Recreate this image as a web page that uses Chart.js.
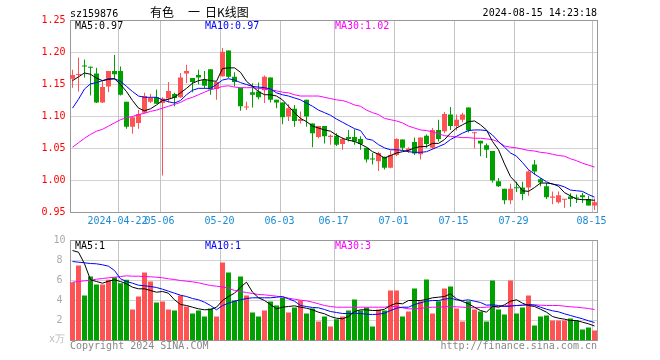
<!DOCTYPE html>
<html>
<head>
<meta charset="utf-8">
<script src="https://cdn.jsdelivr.net/npm/chart.js@4.4.1/dist/chart.umd.min.js"></script>
<style>
  body { margin: 0; background: #fff; }
  #wrap { position: relative; width: 660px; height: 360px; overflow: hidden; font: 10px 'DejaVu Sans Mono', monospace; }
  canvas { position: absolute; left: 0; top: 0; }
  .t { position: absolute; line-height: 12px; white-space: pre; }
  .cjk { position: absolute; font: 12px 'Noto Sans CJK SC', sans-serif; line-height: 14px; top: 5px; white-space: pre; }
</style>
</head>
<body>
<div id="wrap">
  <canvas id="price" width="660" height="360"></canvas>
  <canvas id="volume" width="660" height="360"></canvas>

  <div class="t" style="left:70px;top:8px">sz159876</div>
  <div class="cjk" style="left:150px">有色</div>
  <div class="cjk" style="left:188px">一</div>
  <div class="cjk" style="left:205px">日K线图</div>
  <div class="t" style="right:63px;top:7px">2024-08-15 14:23:18</div>

  <div class="t" id="lg5" style="left:75px;top:19.5px;color:#000"></div>
  <div class="t" id="lg10" style="left:205px;top:19.5px;color:#0000ff"></div>
  <div class="t" id="lg30" style="left:335px;top:19.5px;color:#ff00ff"></div>

  <div class="t" id="vlg5" style="left:75px;top:239.5px;color:#000"></div>
  <div class="t" id="vlg10" style="left:205px;top:239.5px;color:#0000ff"></div>
  <div class="t" id="vlg30" style="left:335px;top:239.5px;color:#ff00ff"></div>

  <div class="t" style="left:49px;top:333px;color:#bbb">x万</div>
  <div class="t" style="left:70px;top:339.5px;color:#888">Copyright 2024 SINA.COM</div>
  <div class="t" style="right:63px;top:339.5px;color:#888">http://finance.sina.com.cn</div>
</div>

<script>
// trading days shown on the chart
const dates = [
  '2024-04-10','2024-04-11','2024-04-12','2024-04-15','2024-04-16','2024-04-17','2024-04-18','2024-04-19',
  '2024-04-22','2024-04-23','2024-04-24','2024-04-25','2024-04-26','2024-04-29','2024-04-30',
  '2024-05-06','2024-05-07','2024-05-08','2024-05-09','2024-05-10',
  '2024-05-13','2024-05-14','2024-05-15','2024-05-16','2024-05-17',
  '2024-05-20','2024-05-21','2024-05-22','2024-05-23','2024-05-24',
  '2024-05-27','2024-05-28','2024-05-29','2024-05-30','2024-05-31',
  '2024-06-03','2024-06-04','2024-06-05','2024-06-06','2024-06-07',
  '2024-06-11','2024-06-12','2024-06-13','2024-06-14',
  '2024-06-17','2024-06-18','2024-06-19','2024-06-20','2024-06-21',
  '2024-06-24','2024-06-25','2024-06-26','2024-06-27','2024-06-28',
  '2024-07-01','2024-07-02','2024-07-03','2024-07-04','2024-07-05',
  '2024-07-08','2024-07-09','2024-07-10','2024-07-11','2024-07-12',
  '2024-07-15','2024-07-16','2024-07-17','2024-07-18','2024-07-19',
  '2024-07-22','2024-07-23','2024-07-24','2024-07-25','2024-07-26',
  '2024-07-29','2024-07-30','2024-07-31',
  '2024-08-01','2024-08-02','2024-08-05','2024-08-06','2024-08-07','2024-08-08','2024-08-09',
  '2024-08-12','2024-08-13','2024-08-14','2024-08-15'
];

// axis tick dates and the text shown for them
const tickDates = ['2024-04-22','2024-05-06','2024-05-20','2024-06-03','2024-06-17','2024-07-01','2024-07-15','2024-07-29','2024-08-15'];
const tickTexts = ['2024-04-22','05-06','05-20','06-03','06-17','07-01','07-15','07-29','08-15'];

const open = [
  1.159,1.165,1.179,1.177,1.167,1.122,1.147,1.171,1.171,1.123,
  1.084,1.090,1.106,1.123,1.130,1.121,1.128,1.135,1.130,1.167,
  1.160,1.165,1.157,1.174,1.143,1.163,1.203,1.162,1.145,1.114,
  1.138,1.139,1.141,1.161,1.126,1.122,1.100,1.112,1.093,1.126,
  1.089,1.068,1.085,1.068,1.070,1.057,1.068,1.068,1.065,1.051,
  1.034,1.030,1.037,1.020,1.040,1.064,1.047,1.060,1.041,1.070,
  1.051,1.079,1.077,1.103,1.085,1.095,1.114,1.074,1.062,1.055,
  1.046,0.999,0.987,0.969,0.989,0.989,0.989,1.025,1.002,0.991,
  0.973,0.966,0.970,0.975,0.973,0.977,0.971,0.961
];
const high = [
  1.173,1.192,1.189,1.178,1.176,1.155,1.171,1.196,1.178,1.123,
  1.099,1.110,1.137,1.135,1.142,1.130,1.154,1.137,1.168,1.181,
  1.160,1.173,1.171,1.174,1.154,1.207,1.203,1.169,1.145,1.123,
  1.152,1.153,1.164,1.161,1.126,1.122,1.119,1.118,1.108,1.126,
  1.089,1.085,1.085,1.072,1.074,1.067,1.079,1.080,1.069,1.051,
  1.043,1.045,1.037,1.047,1.066,1.064,1.052,1.067,1.067,1.072,
  1.082,1.095,1.107,1.115,1.103,1.106,1.114,1.076,1.062,1.058,
  1.046,1.004,0.987,0.995,0.998,0.998,1.016,1.032,1.004,0.996,
  0.983,0.983,0.971,0.980,0.978,0.981,0.976,0.972
];
const low = [
  1.145,1.139,1.161,1.133,1.121,1.121,1.138,1.158,1.133,1.081,
  1.073,1.081,1.105,1.121,1.120,1.008,1.122,1.116,1.129,1.152,
  1.138,1.150,1.144,1.134,1.126,1.162,1.160,1.147,1.109,1.110,
  1.114,1.127,1.121,1.122,1.113,1.088,1.093,1.084,1.089,1.084,
  1.052,1.066,1.058,1.056,1.054,1.048,1.061,1.056,1.048,1.028,
  1.025,1.015,1.017,1.019,1.038,1.047,1.043,1.040,1.033,1.051,
  1.049,1.061,1.074,1.079,1.078,1.091,1.075,1.050,1.038,1.035,
  0.997,0.990,0.963,0.963,0.982,0.969,0.976,1.009,0.991,0.971,
  0.963,0.964,0.957,0.959,0.965,0.965,0.961,0.954
];
const close = [
  1.165,1.166,1.178,1.176,1.122,1.146,1.171,1.166,1.134,1.084,
  1.099,1.104,1.132,1.129,1.120,1.128,1.140,1.129,1.161,1.171,
  1.154,1.161,1.148,1.142,1.154,1.201,1.162,1.154,1.116,1.115,
  1.134,1.130,1.162,1.126,1.122,1.099,1.113,1.093,1.096,1.100,
  1.074,1.085,1.069,1.070,1.056,1.065,1.065,1.061,1.057,1.033,
  1.033,1.043,1.020,1.040,1.065,1.051,1.050,1.042,1.067,1.057,
  1.079,1.065,1.104,1.085,1.095,1.103,1.078,1.074,1.058,1.048,
  1.000,0.991,0.969,0.987,0.988,0.979,1.014,1.014,0.997,0.974,
  0.975,0.977,0.971,0.971,0.972,0.974,0.961,0.966
];

// moving averages as drawn on the price panel
const ma5 = [
  1.156,1.162,1.168,1.166,1.160,1.156,1.158,1.159,1.150,1.139,
  1.125,1.113,1.109,1.112,1.118,1.125,1.127,1.130,1.137,1.144,
  1.152,1.156,1.158,1.156,1.155,1.175,1.176,1.176,1.169,1.155,
  1.147,1.139,1.134,1.134,1.132,1.126,1.116,1.106,1.097,1.092,
  1.085,1.082,1.079,1.077,1.071,1.066,1.063,1.061,1.057,1.052,
  1.045,1.041,1.035,1.039,1.043,1.045,1.047,1.051,1.053,1.053,
  1.058,1.058,1.064,1.074,1.082,1.087,1.092,1.093,1.087,1.079,
  1.061,1.048,1.026,1.006,0.996,0.984,0.983,0.989,0.996,0.996,
  0.995,0.991,0.981,0.976,0.971,0.970,0.970,0.969
];
const ma10 = [
  1.113,1.127,1.143,1.151,1.153,1.156,1.159,1.159,1.155,1.147,
  1.139,1.132,1.130,1.130,1.130,1.126,1.123,1.121,1.125,1.134,
  1.141,1.144,1.144,1.144,1.150,1.157,1.159,1.157,1.153,1.150,
  1.147,1.146,1.145,1.143,1.137,1.134,1.132,1.129,1.126,1.121,
  1.116,1.110,1.106,1.102,1.096,1.091,1.086,1.081,1.078,1.065,
  1.063,1.056,1.051,1.048,1.048,1.047,1.045,1.044,1.044,1.045,
  1.049,1.053,1.057,1.064,1.069,1.074,1.078,1.079,1.079,1.078,
  1.071,1.061,1.052,1.043,1.038,1.028,1.017,1.010,1.004,0.998,
  0.994,0.993,0.990,0.985,0.984,0.983,0.978,0.974
];
const ma30 = [
  1.052,1.059,1.066,1.072,1.077,1.080,1.085,1.090,1.095,1.098,
  1.100,1.103,1.105,1.108,1.110,1.113,1.116,1.119,1.122,1.127,
  1.130,1.134,1.138,1.142,1.144,1.147,1.148,1.146,1.145,1.145,
  1.145,1.144,1.143,1.142,1.140,1.138,1.137,1.134,1.132,1.132,
  1.132,1.132,1.130,1.128,1.126,1.125,1.122,1.118,1.116,1.110,
  1.106,1.103,1.097,1.095,1.093,1.090,1.085,1.082,1.079,1.078,
  1.076,1.073,1.070,1.069,1.068,1.067,1.067,1.066,1.066,1.065,
  1.064,1.060,1.054,1.052,1.051,1.049,1.047,1.046,1.044,1.043,
  1.041,1.039,1.038,1.034,1.031,1.027,1.024,1.021
];

// volume (x万) and its moving averages
const volume = [
  5.83,7.5,4.5,6.4,5.6,5.6,6.07,6.33,5.73,6.07,
  3.1,4.4,6.8,5.9,3.8,3.9,3.1,3.0,4.5,3.4,
  2.7,3.0,2.4,3.2,2.4,7.8,6.8,4.0,6.4,4.5,
  2.8,2.4,3.0,3.9,3.5,4.27,2.8,3.3,4.0,2.7,
  3.2,1.9,2.4,1.4,2.13,2.4,3.0,4.1,3.0,3.3,
  1.4,3.1,3.0,5.0,5.0,2.4,2.9,5.2,3.93,6.1,
  2.7,3.93,5.2,5.4,3.2,1.9,3.93,3.1,2.9,1.9,
  6.0,3.1,2.6,6.0,2.7,3.3,4.5,1.5,2.4,2.5,
  2.0,2.0,2.0,2.2,2.0,1.1,1.3,1.0
];
const volMa5 = [
  9.0,8.83,7.67,6.07,5.9,5.73,5.93,6.07,5.9,5.67,
  5.33,5.17,5.17,5.0,4.83,4.9,4.73,4.07,3.6,3.5,
  3.33,3.17,3.07,3.1,3.33,4.0,4.4,4.73,5.33,5.83,
  4.83,4.27,4.0,3.6,3.17,3.33,3.4,3.47,3.33,3.23,
  3.07,2.83,2.67,2.4,2.23,2.17,2.4,2.9,3.07,3.07,
  3.0,3.0,3.13,3.5,3.73,3.67,4.0,4.0,4.0,4.1,
  4.27,4.33,4.4,4.67,4.17,3.9,3.67,3.33,3.0,2.83,
  3.43,3.33,3.57,3.93,4.07,3.73,3.5,3.4,3.13,2.83,
  2.4,2.23,2.13,2.0,2.0,1.83,1.67,1.45
];
const volMa10 = [
  7.9,7.83,7.77,7.7,7.67,7.57,7.43,7.0,6.17,5.9,
  5.73,5.53,5.47,5.4,5.3,5.13,4.93,4.73,4.53,4.4,
  4.2,4.07,3.83,3.5,3.07,3.5,3.73,3.93,4.07,4.2,
  4.27,4.27,4.27,4.27,4.33,4.4,4.17,3.93,3.5,3.4,
  3.3,3.27,3.1,2.9,2.8,2.7,2.7,2.73,2.7,2.63,
  2.6,2.63,2.73,3.0,3.23,3.33,3.33,3.6,3.77,3.93,
  4.0,4.0,4.13,4.23,4.07,4.0,4.07,3.93,3.8,3.53,
  3.57,3.5,3.4,3.43,3.5,3.53,3.6,3.53,3.33,3.13,
  2.97,2.87,2.67,2.5,2.33,2.17,1.97,1.8
];
const volMa30 = [
  5.83,5.9,5.97,6.03,6.13,6.2,6.27,6.33,6.4,6.47,
  6.43,6.43,6.4,6.37,6.33,6.27,6.17,6.1,6.0,5.93,
  5.87,5.77,5.63,5.5,5.43,5.37,5.23,5.0,4.9,4.8,
  4.7,4.6,4.57,4.5,4.43,4.33,4.23,4.13,4.03,3.97,
  3.83,3.67,3.5,3.4,3.33,3.33,3.33,3.33,3.33,3.33,
  3.33,3.33,3.33,3.4,3.4,3.27,3.17,3.17,3.2,3.3,
  3.33,3.33,3.37,3.4,3.37,3.33,3.3,3.27,3.3,3.33,
  3.37,3.4,3.47,3.5,3.5,3.53,3.57,3.57,3.53,3.5,
  3.5,3.5,3.43,3.37,3.33,3.27,3.2,3.1
];

const UP = '#ff5252';
const DOWN = '#00a000';
const MONO = 'DejaVu Sans Mono';

const candleColors = close.map((c, i) => (c >= open[i] ? UP : DOWN));
const tickIndex = tickDates.map(d => dates.indexOf(d));

// gray box, value lines and date lines for each panel
const framePlugin = {
  id: 'frame',
  beforeDatasetsDraw(chart) {
    const a = chart.chartArea;
    const ctx = chart.ctx;
    const xs = chart.scales.x;
    const ys = chart.scales.y;
    const left = Math.round(a.left);
    const top = Math.floor(a.top);
    const right = Math.floor(a.right);
    const bottom = Math.floor(a.bottom);
    const half = xs.width / dates.length / 2;

    ctx.save();
    ctx.lineWidth = 1;

    // value lines
    ctx.strokeStyle = '#d2d2d2';
    ctx.beginPath();
    ys.ticks.forEach(t => {
      const y = Math.floor(ys.getPixelForValue(t.value)) + 0.5;
      if (y <= top + 1 || y >= bottom - 1) return;
      ctx.moveTo(left, y);
      ctx.lineTo(right, y);
    });
    ctx.stroke();

    // date lines
    ctx.strokeStyle = '#c4c4c4';
    ctx.beginPath();
    tickIndex.forEach(i => {
      const x = Math.round(xs.getPixelForValue(i) - half) + 0.5;
      ctx.moveTo(x, top);
      ctx.lineTo(x, bottom);
    });
    ctx.stroke();

    // frame
    ctx.strokeStyle = '#999999';
    ctx.strokeRect(left + 0.5, top + 0.5, right - left, bottom - top);
    ctx.restore();
  }
};

function maLine(data, color) {
  return {
    type: 'line',
    data: data,
    borderColor: color,
    borderWidth: 1,
    pointRadius: 0,
    tension: 0,
    order: 0
  };
}

const baseOptions = {
  responsive: false,
  animation: false,
  devicePixelRatio: 1,
  events: [],
  plugins: { legend: { display: false }, tooltip: { enabled: false } }
};

// price panel
new Chart(document.getElementById('price'), {
  type: 'bar',
  data: {
    labels: dates,
    datasets: [
      maLine(ma5, '#000000'),
      maLine(ma10, '#0000ff'),
      maLine(ma30, '#ff00ff'),
      {
        data: dates.map((d, i) => [low[i], high[i]]),
        backgroundColor: candleColors,
        barThickness: 1,
        grouped: false,
        inflateAmount: 0,
        order: 2
      },
      {
        data: dates.map((d, i) => [open[i], close[i]]),
        backgroundColor: candleColors,
        barThickness: 5,
        minBarLength: 1,
        grouped: false,
        inflateAmount: 0,
        order: 1
      }
    ]
  },
  options: Object.assign({}, baseOptions, {
    layout: { padding: { left: 0, top: 20.5, right: 62.5, bottom: 120 } },
    scales: {
      x: {
        offset: true,
        grid: { display: false, drawTicks: false },
        border: { display: false },
        ticks: {
          autoSkip: false,
          maxRotation: 0,
          padding: 3,
          labelOffset: -3,
          color: '#1a8ad4',
          font: { family: MONO, size: 10 },
          callback: (v, i) => {
            const k = tickIndex.indexOf(i);
            return k >= 0 ? tickTexts[k] : '';
          }
        },
        afterFit: s => { s.height = 27.5; }
      },
      y: {
        min: 0.95,
        max: 1.25,
        grid: { display: false, drawTicks: false },
        border: { display: false },
        ticks: {
          stepSize: 0.05,
          padding: 4,
          color: '#ff0000',
          font: { family: MONO, size: 10 },
          callback: v => Number(v).toFixed(2)
        },
        afterFit: s => { s.width = 69.5; }
      }
    }
  }),
  plugins: [framePlugin]
});

// volume panel
new Chart(document.getElementById('volume'), {
  type: 'bar',
  data: {
    labels: dates,
    datasets: [
      maLine(volMa5, '#000000'),
      maLine(volMa10, '#0000ff'),
      maLine(volMa30, '#ff00ff'),
      {
        data: volume,
        backgroundColor: candleColors,
        barThickness: 5,
        inflateAmount: 0,
        order: 1
      }
    ]
  },
  options: Object.assign({}, baseOptions, {
    layout: { padding: { left: 0, top: 240.5, right: 62.5, bottom: 19.5 } },
    scales: {
      x: {
        offset: true,
        grid: { display: false, drawTicks: false },
        border: { display: false },
        ticks: { display: false, autoSkip: false },
        afterFit: s => { s.height = 0; }
      },
      y: {
        min: 0,
        max: 10,
        grid: { display: false, drawTicks: false },
        border: { display: false },
        ticks: {
          stepSize: 2,
          padding: 4,
          crossAlign: 'center',
          color: '#aaa',
          font: { family: MONO, size: 10 },
          callback: v => (v === 0 ? '' : v)
        },
        afterFit: s => { s.width = 69.5; }
      }
    }
  }),
  plugins: [framePlugin]
});

// legend texts from the last values
const last = a => a[a.length - 1];
document.getElementById('lg5').textContent = 'MA5:' + last(ma5).toFixed(2);
document.getElementById('lg10').textContent = 'MA10:' + last(ma10).toFixed(2);
document.getElementById('lg30').textContent = 'MA30:' + last(ma30).toFixed(2);
document.getElementById('vlg5').textContent = 'MA5:' + Math.floor(last(volMa5));
document.getElementById('vlg10').textContent = 'MA10:' + Math.floor(last(volMa10));
document.getElementById('vlg30').textContent = 'MA30:' + Math.floor(last(volMa30));
</script>
</body>
</html>
